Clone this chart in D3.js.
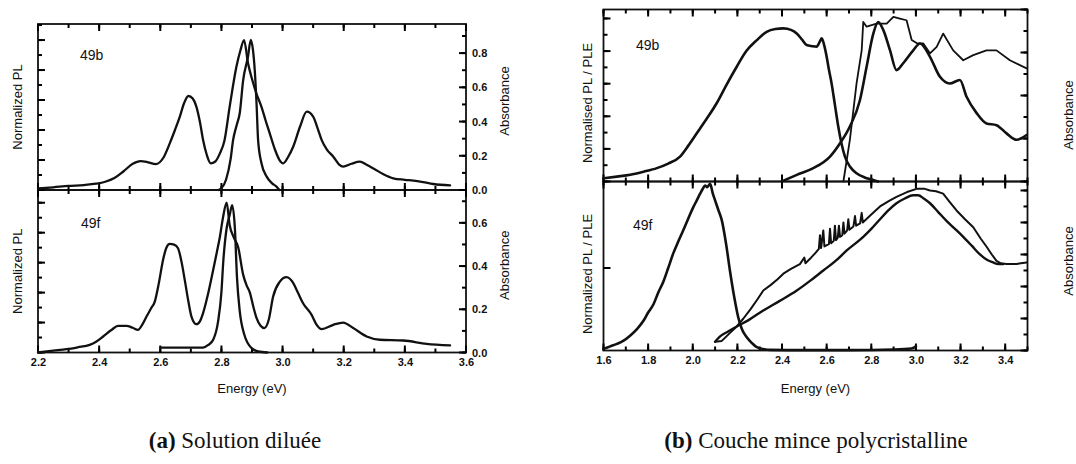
<!DOCTYPE html>
<html>
<head>
<meta charset="utf-8">
<script src="https://cdn.jsdelivr.net/npm/d3@7"></script>
<style>
  html, body { margin: 0; padding: 0; background: #fff; }
  svg { display: block; }
  .tick text { font-family: "Liberation Sans", Arial, sans-serif; font-weight: bold; font-size: 11px; fill: #111; }
  .lbl { font-family: "Liberation Sans", Arial, sans-serif; font-size: 13px; fill: #111; }
  .cap { font-family: "Liberation Serif", "Times New Roman", serif; font-size: 23px; fill: #111; }
</style>
</head>
<body>
<svg id="fig" width="1076" height="464"></svg>
<script>
// ---------- (a) dilute solution: [energy (eV), value] ----------
const solPL49b = [[2.20,0.010],[2.25,0.018],[2.30,0.027],[2.35,0.033],[2.39,0.042],[2.42,0.055],[2.45,0.08],[2.48,0.125],[2.51,0.175],[2.535,0.193],[2.56,0.185],[2.585,0.172],[2.61,0.215],[2.631,0.311],[2.648,0.40],[2.664,0.489],[2.678,0.58],[2.692,0.627],[2.706,0.61],[2.718,0.556],[2.73,0.45],[2.74,0.333],[2.752,0.235],[2.765,0.178],[2.78,0.19],[2.795,0.244],[2.81,0.33],[2.827,0.556],[2.849,0.822],[2.862,0.93],[2.874,1.0],[2.887,0.845],[2.90,0.74],[2.915,0.64],[2.931,0.555],[2.945,0.46],[2.958,0.378],[2.975,0.27],[2.99,0.2],[3.002,0.178],[3.018,0.22],[3.035,0.29],[3.057,0.422],[3.079,0.522],[3.10,0.49],[3.115,0.41],[3.128,0.333],[3.145,0.27],[3.166,0.222],[3.185,0.17],[3.198,0.156],[3.225,0.175],[3.253,0.189],[3.275,0.168],[3.297,0.144],[3.33,0.105],[3.362,0.078],[3.40,0.068],[3.428,0.062],[3.46,0.052],[3.493,0.04],[3.548,0.031]];
const solAbs49b = [[2.79,0.0],[2.80,0.01],[2.815,0.06],[2.83,0.18],[2.838,0.29],[2.85,0.38],[2.86,0.45],[2.871,0.64],[2.887,0.78],[2.896,0.877],[2.903,0.82],[2.909,0.70],[2.915,0.5],[2.920,0.29],[2.931,0.156],[2.948,0.078],[2.965,0.04],[2.98,0.02],[2.99,0.0]];
const solPL49f = [[2.20,0.0],[2.25,0.012],[2.293,0.022],[2.33,0.035],[2.369,0.051],[2.39,0.072],[2.413,0.107],[2.44,0.15],[2.462,0.178],[2.489,0.178],[2.51,0.165],[2.527,0.151],[2.542,0.19],[2.555,0.24],[2.57,0.295],[2.582,0.34],[2.595,0.46],[2.609,0.618],[2.62,0.70],[2.631,0.725],[2.645,0.72],[2.658,0.696],[2.67,0.6],[2.68,0.485],[2.692,0.34],[2.702,0.24],[2.718,0.189],[2.73,0.21],[2.74,0.263],[2.755,0.38],[2.773,0.551],[2.785,0.67],[2.795,0.773],[2.805,0.9],[2.817,1.0],[2.827,0.85],[2.84,0.77],[2.855,0.70],[2.871,0.52],[2.882,0.45],[2.893,0.40],[2.905,0.30],[2.915,0.229],[2.928,0.178],[2.94,0.163],[2.955,0.22],[2.969,0.373],[2.99,0.47],[3.013,0.503],[3.035,0.463],[3.05,0.40],[3.067,0.329],[3.095,0.251],[3.11,0.19],[3.128,0.156],[3.166,0.185],[3.198,0.2],[3.231,0.163],[3.275,0.107],[3.318,0.085],[3.395,0.08],[3.471,0.058],[3.548,0.047]];
const solAbs49f = [[2.60,0.023],[2.74,0.023],[2.757,0.035],[2.773,0.059],[2.789,0.143],[2.80,0.28],[2.806,0.42],[2.817,0.575],[2.827,0.636],[2.835,0.682],[2.844,0.575],[2.851,0.344],[2.86,0.19],[2.875,0.082],[2.899,0.02],[2.92,0.005],[2.95,0.0]];

// ---------- (b) polycrystalline thin film ----------
const filmPL49b = [[1.60,0.02],[1.66,0.03],[1.72,0.041],[1.78,0.06],[1.839,0.082],[1.89,0.11],[1.943,0.153],[1.98,0.22],[2.018,0.296],[2.06,0.38],[2.107,0.48],[2.15,0.59],[2.197,0.704],[2.24,0.80],[2.287,0.867],[2.331,0.918],[2.37,0.935],[2.406,0.939],[2.44,0.93],[2.466,0.908],[2.49,0.87],[2.51,0.837],[2.535,0.83],[2.555,0.827],[2.57,0.86],[2.578,0.878],[2.59,0.83],[2.60,0.765],[2.611,0.68],[2.622,0.602],[2.637,0.47],[2.652,0.337],[2.667,0.23],[2.682,0.153],[2.705,0.09],[2.734,0.051],[2.77,0.025],[2.809,0.01],[2.83,0.0]];
const filmAbs49b = [[2.399,0.0],[2.466,0.155],[2.54,0.31],[2.615,0.58],[2.66,0.89],[2.704,1.28],[2.749,1.89],[2.779,2.67],[2.809,3.44],[2.831,3.71],[2.854,3.52],[2.884,3.05],[2.913,2.59],[2.943,2.75],[2.988,3.05],[3.018,3.21],[3.063,2.9],[3.107,2.44],[3.152,2.28],[3.197,2.36],[3.227,1.97],[3.272,1.59],[3.316,1.35],[3.361,1.31],[3.406,1.12],[3.451,0.97],[3.496,1.08]];
const filmPLE49b = [[2.675,0.0],[2.69,0.5],[2.704,0.97],[2.734,2.28],[2.757,3.05],[2.764,3.71],[2.779,3.6],[2.824,3.67],[2.869,3.67],[2.899,3.83],[2.928,3.79],[2.958,3.75],[2.981,3.29],[3.003,3.22],[3.033,3.21],[3.063,2.98],[3.093,3.13],[3.122,3.44],[3.167,3.05],[3.212,2.82],[3.257,2.94],[3.316,3.05],[3.361,3.05],[3.421,2.82],[3.496,2.63]];
const filmPL49f = [[1.60,0.01],[1.63,0.025],[1.66,0.04],[1.69,0.06],[1.719,0.09],[1.75,0.13],[1.779,0.18],[1.80,0.23],[1.824,0.28],[1.845,0.35],[1.869,0.42],[1.89,0.50],[1.913,0.59],[1.935,0.66],[1.958,0.73],[1.98,0.80],[2.003,0.87],[2.018,0.91],[2.033,0.95],[2.045,0.98],[2.055,1.0],[2.065,0.99],[2.078,1.01],[2.09,0.95],[2.10,0.91],[2.115,0.85],[2.13,0.79],[2.15,0.64],[2.167,0.48],[2.185,0.33],[2.204,0.20],[2.22,0.13],[2.242,0.08],[2.265,0.045],[2.287,0.02],[2.32,0.008],[2.346,0.004],[2.5,0.002],[2.7,0.002],[2.9,0.006],[2.98,0.012],[2.995,0.02],[3.0,0.025]];
const filmAbs49f = [[2.10,0.055],[2.12,0.085],[2.16,0.12],[2.197,0.15],[2.25,0.19],[2.316,0.25],[2.39,0.31],[2.466,0.375],[2.53,0.44],[2.585,0.50],[2.64,0.56],[2.69,0.625],[2.764,0.71],[2.80,0.76],[2.839,0.82],[2.88,0.88],[2.913,0.92],[2.95,0.95],[2.988,0.97],[3.01,0.97],[3.035,0.95],[3.063,0.92],[3.10,0.865],[3.137,0.81],[3.175,0.76],[3.212,0.71],[3.25,0.655],[3.287,0.6],[3.32,0.565],[3.346,0.55],[3.37,0.54],[3.391,0.54]];
const filmPLE49f = [[2.10,0.055],[2.13,0.06],[2.167,0.11],[2.197,0.15],[2.227,0.2],[2.26,0.26],[2.29,0.32],[2.316,0.375],[2.35,0.41],[2.38,0.445],[2.406,0.48],[2.44,0.51],[2.48,0.54],[2.50,0.58],[2.505,0.545],[2.53,0.58],[2.55,0.61],[2.565,0.635],[2.57,0.72],[2.575,0.64],[2.585,0.75],[2.59,0.65],[2.61,0.665],[2.615,0.76],[2.62,0.67],[2.632,0.685],[2.637,0.78],[2.642,0.69],[2.65,0.705],[2.655,0.78],[2.66,0.71],[2.67,0.72],[2.675,0.80],[2.68,0.73],[2.692,0.75],[2.697,0.82],[2.702,0.755],[2.72,0.775],[2.727,0.84],[2.732,0.78],[2.75,0.795],[2.757,0.86],[2.762,0.80],[2.80,0.85],[2.839,0.90],[2.88,0.935],[2.913,0.96],[2.96,0.99],[3.003,1.01],[3.04,1.01],[3.063,1.0],[3.09,0.995],[3.122,0.98],[3.15,0.93],[3.182,0.875],[3.22,0.82],[3.257,0.77],[3.29,0.70],[3.316,0.65],[3.34,0.6],[3.361,0.56],[3.38,0.545],[3.406,0.54],[3.43,0.54],[3.451,0.54],[3.47,0.545],[3.496,0.55]];

// ---------- tick values ----------
const solEnergyTicks = [2.2, 2.4, 2.6, 2.8, 3.0, 3.2, 3.4, 3.6];
const filmEnergyTicks = [1.6, 1.8, 2.0, 2.2, 2.4, 2.6, 2.8, 3.0, 3.2, 3.4];
const absTicks49b = [0.0, 0.2, 0.4, 0.6, 0.8];
const absTicks49f = [0.0, 0.2, 0.4, 0.6];

// ---------- layout ----------
const svg = d3.select("#fig");
const A = { x0: 38, x1: 466, top: 24, mid: 190, bot: 352.5 };
const B = { x0: 603.5, x1: 1027.5, top: 9.5, mid: 181.5, bot: 350.5 };

const range = (a, b, s) => d3.range(Math.round(a / s), Math.round(b / s) + 1).map(k => +(k * s).toFixed(4));

// inward tick marks placed with the scale; orient says which frame edge they sit on
function marks(g, scale, values, len, orient, pos) {
  const horiz = orient === "top" || orient === "bottom";
  const dir = (orient === "top" || orient === "left") ? 1 : -1;
  g.append("g").attr("class", "marks").selectAll("line").data(values).join("line")
    .attr("x1", d => horiz ? scale(d) : pos)
    .attr("x2", d => horiz ? scale(d) : pos + dir * len)
    .attr("y1", d => horiz ? pos : scale(d))
    .attr("y2", d => horiz ? pos + dir * len : scale(d))
    .attr("stroke", "#000").attr("stroke-width", 2);
}

// one frame edge: minor + major marks, plus d3 axis labels where the edge is labelled
function edge(g, orient, scale, pos, major, minor, labels, fmt) {
  marks(g, scale, minor, 4, orient, pos);
  marks(g, scale, major, 7, orient, pos);
  if (labels) {
    const fn = { top: d3.axisTop, bottom: d3.axisBottom, left: d3.axisLeft, right: d3.axisRight }[orient];
    const tr = (orient === "top" || orient === "bottom") ? `translate(0,${pos})` : `translate(${pos},0)`;
    const ax = g.append("g").attr("transform", tr)
      .call(fn(scale).tickValues(major).tickSize(0).tickPadding(6).tickFormat(fmt));
    ax.select(".domain").remove();
  }
}

function frame(g, P, yTop, yBot) {
  g.append("rect").attr("x", P.x0).attr("y", yTop).attr("width", P.x1 - P.x0).attr("height", yBot - yTop)
    .attr("fill", "none").attr("stroke", "#111").attr("stroke-width", 1.8);
}

const lineGen = (x, y, curve) => d3.line().x(d => x(d[0])).y(d => y(d[1])).curve(curve);

function drawCurve(g, data, x, y, curve, w) {
  g.append("path").datum(data).attr("d", lineGen(x, y, curve))
    .attr("fill", "none").attr("stroke", "#111").attr("stroke-width", w)
    .attr("stroke-linejoin", "round").attr("stroke-linecap", "round");
}

const f1 = d3.format(".1f");

// ================= panel (a) =================
const ga = svg.append("g");
const xA = d3.scaleLinear().domain([2.2, 3.6]).range([A.x0, A.x1]);
const yPLa1 = d3.scaleLinear().domain([0, 1.107]).range([A.mid, A.top]);
const yAba1 = d3.scaleLinear().domain([0, 0.97]).range([A.mid, A.top]);
const yPLa2 = d3.scaleLinear().domain([0, 1.085]).range([A.bot, A.mid]);
const yAba2 = d3.scaleLinear().domain([0, 0.752]).range([A.bot, A.mid]);

frame(ga, A, A.top, A.mid);
frame(ga, A, A.mid, A.bot);

const eMajA = range(2.2, 3.6, 0.2), eMinA = range(2.2, 3.6, 0.1);
edge(ga, "top", xA, A.top, eMajA, eMinA, false);
edge(ga, "bottom", xA, A.mid, eMajA, eMinA, false);
edge(ga, "left", yPLa1, A.x0, range(0, 1.0, 0.2), range(0, 1.1, 0.1), false);
edge(ga, "right", yAba1, A.x1, absTicks49b, range(0, 0.9, 0.1), true, f1);
edge(ga, "top", xA, A.mid, eMajA, eMinA, false);
edge(ga, "bottom", xA, A.bot, solEnergyTicks, eMinA, true, f1);
edge(ga, "left", yPLa2, A.x0, range(0, 1.0, 0.2), range(0, 1.0, 0.1), false);
edge(ga, "right", yAba2, A.x1, absTicks49f, range(0, 0.7, 0.1), true, f1);

drawCurve(ga, solPL49b, xA, yPLa1, d3.curveMonotoneX, 2.3);
drawCurve(ga, solAbs49b, xA, yAba1, d3.curveMonotoneX, 2.3);
drawCurve(ga, solPL49f, xA, yPLa2, d3.curveMonotoneX, 2.3);
drawCurve(ga, solAbs49f, xA, yAba2, d3.curveMonotoneX, 2.3);

ga.append("text").attr("class", "lbl").attr("x", 80).attr("y", 60).style("font-size", "14px").text("49b");
ga.append("text").attr("class", "lbl").attr("x", 81).attr("y", 228).style("font-size", "14px").text("49f");
ga.append("text").attr("class", "lbl").attr("transform", `translate(22,${(A.top + A.mid) / 2}) rotate(-90)`)
  .attr("text-anchor", "middle").text("Normalized PL");
ga.append("text").attr("class", "lbl").attr("transform", `translate(22,${(A.mid + A.bot) / 2}) rotate(-90)`)
  .attr("text-anchor", "middle").text("Normalized PL");
ga.append("text").attr("class", "lbl").attr("transform", `translate(509,${(A.top + A.mid) / 2 - 6}) rotate(-90)`)
  .attr("text-anchor", "middle").text("Absorbance");
ga.append("text").attr("class", "lbl").attr("transform", `translate(509,${(A.mid + A.bot) / 2 - 6}) rotate(-90)`)
  .attr("text-anchor", "middle").text("Absorbance");
ga.append("text").attr("class", "lbl").attr("x", (A.x0 + A.x1) / 2).attr("y", 393)
  .attr("text-anchor", "middle").text("Energy (eV)");

// ================= panel (b) =================
const gb = svg.append("g");
const xB = d3.scaleLinear().domain([1.6, 3.5]).range([B.x0, B.x1]);
const yPLb1 = d3.scaleLinear().domain([0, 1.055]).range([B.mid, B.top]);
const yAbb1 = d3.scaleLinear().domain([0, 4.0]).range([B.mid, B.top]);
const yPLb2 = d3.scaleLinear().domain([0, 1.024]).range([B.bot, B.mid]);
const yAbb2 = d3.scaleLinear().domain([0, 1.056]).range([B.bot, B.mid]);

frame(gb, B, B.top, B.mid);
frame(gb, B, B.mid, B.bot);

const eMajB = range(1.6, 3.4, 0.2), eMinB = range(1.6, 3.5, 0.1);
edge(gb, "top", xB, B.top, eMajB, eMinB, false);
edge(gb, "bottom", xB, B.mid, eMajB, eMinB, false);
edge(gb, "left", yPLb1, B.x0, range(0, 1.0, 0.2), range(0, 1.0, 0.1), false);
edge(gb, "right", yAbb1, B.x1, range(0, 4, 1), range(0, 4, 0.5), false);
edge(gb, "top", xB, B.mid, eMajB, eMinB, false);
edge(gb, "bottom", xB, B.bot, filmEnergyTicks, eMinB, true, f1);
edge(gb, "left", yPLb2, B.x0, [0.5], [0.5], false);
edge(gb, "right", yAbb2, B.x1, range(0, 1.0, 0.2), range(0, 1.0, 0.1), false);

drawCurve(gb, filmPL49b, xB, yPLb1, d3.curveMonotoneX, 2.6);
drawCurve(gb, filmAbs49b, xB, yAbb1, d3.curveMonotoneX, 2.6);
drawCurve(gb, filmPLE49b, xB, yAbb1, d3.curveLinear, 1.8);
drawCurve(gb, filmPL49f, xB, yPLb2, d3.curveMonotoneX, 2.6);
drawCurve(gb, filmAbs49f, xB, yAbb2, d3.curveMonotoneX, 2.4);
drawCurve(gb, filmPLE49f, xB, yAbb2, d3.curveLinear, 2.0);

gb.append("text").attr("class", "lbl").attr("x", 636).attr("y", 50).style("font-size", "14px").text("49b");
gb.append("text").attr("class", "lbl").attr("x", 633).attr("y", 230).style("font-size", "14px").text("49f");
gb.append("text").attr("class", "lbl").attr("transform", `translate(592,103) rotate(-90)`)
  .attr("text-anchor", "middle").text("Normalised PL / PLE");
gb.append("text").attr("class", "lbl").attr("transform", `translate(592,274) rotate(-90)`)
  .attr("text-anchor", "middle").text("Normalized PL / PLE");
gb.append("text").attr("class", "lbl").attr("transform", `translate(1073,115) rotate(-90)`)
  .attr("text-anchor", "middle").text("Absorbance");
gb.append("text").attr("class", "lbl").attr("transform", `translate(1073,261) rotate(-90)`)
  .attr("text-anchor", "middle").text("Absorbance");
gb.append("text").attr("class", "lbl").attr("x", (B.x0 + B.x1) / 2).attr("y", 393)
  .attr("text-anchor", "middle").text("Energy (eV)");

// ================= captions =================
const capA = svg.append("text").attr("class", "cap").attr("x", 235).attr("y", 448).attr("text-anchor", "middle");
capA.append("tspan").attr("font-weight", "bold").text("(a)");
capA.append("tspan").text(" Solution diluée");
const capB = svg.append("text").attr("class", "cap").attr("x", 816).attr("y", 448).attr("text-anchor", "middle");
capB.append("tspan").attr("font-weight", "bold").text("(b)");
capB.append("tspan").text(" Couche mince polycristalline");
</script>
</body>
</html>
